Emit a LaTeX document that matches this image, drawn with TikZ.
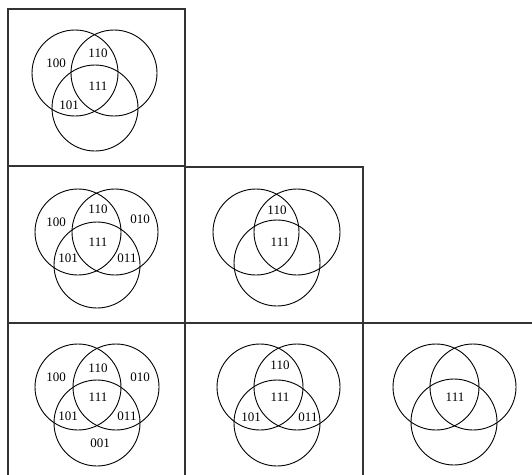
\documentclass[tikz,border=0pt]{standalone}
\usepackage{fontspec}
\setmainfont{Liberation Serif}
\begin{document}
\begin{tikzpicture}[x=1pt,y=-1pt,
  frame/.style={draw=black!80,line width=1.3pt},
  venn/.style={circle,draw=black,line width=0.9pt,minimum size=86pt,inner sep=0pt},
  lbl/.style={inner sep=0pt,font=\fontsize{13}{13}\selectfont}]
\useasboundingbox (0,0) rectangle (532,474);
\clip (0,0) rectangle (532,474);
% frames
\draw[frame] (8,9) rectangle (185,166);
\draw[frame] (8,166) rectangle (185,323);
\draw[frame] (185,167) rectangle (363,323);
\draw[frame] (8,323) rectangle (185,490);
\draw[frame] (185,323) rectangle (363,490);
\draw[frame] (363,323) rectangle (545,490);
% box 1
\node[venn] (a1) at (75,73) {};
\node[venn] (b1) at (114,73) {};
\node[venn] (c1) at (95,108) {};
\node[lbl] (l1a) at (56,63) {100};
\node[lbl] (l1b) at (98,53) {110};
\node[lbl] (l1c) at (98,86) {111};
\node[lbl] (l1d) at (69,105) {101};
% box 2
\node[venn] (a2) at (78,232) {};
\node[venn] (b2) at (115,232) {};
\node[venn] (c2) at (97,265) {};
\node[lbl] (l2a) at (56,222) {100};
\node[lbl] (l2b) at (98,209) {110};
\node[lbl] (l2c) at (140,219) {010};
\node[lbl] (l2d) at (98,242) {111};
\node[lbl] (l2e) at (68,258) {101};
\node[lbl] (l2f) at (127,258) {011};
% box 3
\node[venn] (a3) at (78,387) {};
\node[venn] (b3) at (116,387) {};
\node[venn] (c3) at (97,423) {};
\node[lbl] (l3a) at (56,377) {100};
\node[lbl] (l3b) at (98,368) {110};
\node[lbl] (l3c) at (140,377) {010};
\node[lbl] (l3d) at (98,397) {111};
\node[lbl] (l3e) at (68,416) {101};
\node[lbl] (l3f) at (127,416) {011};
\node[lbl] (l3g) at (100,443) {001};
% box 4
\node[venn] (a4) at (256,232) {};
\node[venn] (b4) at (297,232) {};
\node[venn] (c4) at (277,263) {};
\node[lbl] (l4a) at (277,210) {110};
\node[lbl] (l4b) at (280,242) {111};
% box 5
\node[venn] (a5) at (260,387) {};
\node[venn] (b5) at (297,387) {};
\node[venn] (c5) at (277,423) {};
\node[lbl] (l5a) at (280,365) {110};
\node[lbl] (l5b) at (280,397) {111};
\node[lbl] (l5c) at (251,417) {101};
\node[lbl] (l5d) at (308,417) {011};
% box 6
\node[venn] (a6) at (436,387) {};
\node[venn] (b6) at (473,387) {};
\node[venn] (c6) at (454,422) {};
\node[lbl] (l6a) at (455,397) {111};
\end{tikzpicture}
\end{document}
